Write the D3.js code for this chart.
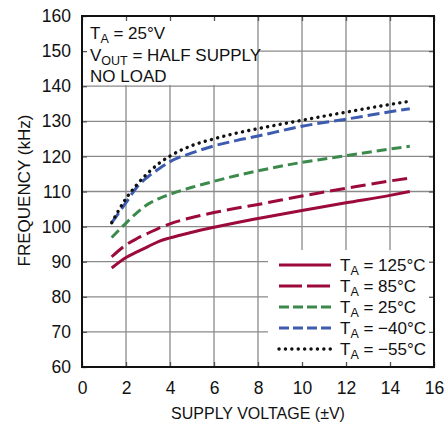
<!DOCTYPE html>
<html lang="en">
<head>
<meta charset="UTF-8">
<title>Frequency vs Supply Voltage</title>
<style>
    body { margin: 0; background: #fff; }
    svg text { font-family: "Liberation Sans Narrow", "Arial Narrow", "Liberation Sans", sans-serif; fill: #111; }
    .grid line { stroke: #8a8a8a; stroke-width: 1.3; }
</style>
</head>
<body>
<div id="chart"></div>
<script src="https://cdnjs.cloudflare.com/ajax/libs/d3/7.8.5/d3.min.js"></script>
<script>
    // supply voltage (±V) sample points, shared by every curve
    var volts = [1.35, 2, 2.5, 3, 3.5, 4, 5, 6, 7, 8, 10, 12, 14, 14.9];

    // frequency (kHz)
    var f125 = [88.2, 91.2, 92.8, 94.3, 95.8, 96.8, 98.4, 99.8, 101.1, 102.3, 104.6, 106.8, 108.9, 110];
    var f85 = [91.4, 94.8, 96.6, 98.1, 99.6, 100.8, 102.6, 104, 105.2, 106.3, 108.7, 110.9, 113, 113.8];
    var f25 = [96.9, 101, 104, 106.4, 108, 109.2, 111.2, 112.9, 114.5, 115.9, 118.3, 120.2, 122.1, 122.9];
    var fm40 = [101.1, 106.8, 111.3, 114.2, 116.5, 118.5, 121, 123, 124.5, 125.8, 128.6, 130.6, 132.7, 133.6];
    var fm55 = [101.1, 108, 112, 115.3, 118, 120.1, 123.1, 125, 126.6, 127.9, 130.3, 132.6, 134.8, 135.7];

    var tempLabels = ["125°C", "85°C", "25°C", "\u221240°C", "\u221255°C"];
    var xTicks = [0, 2, 4, 6, 8, 10, 12, 14, 16];
    var yTicks = [60, 70, 80, 90, 100, 110, 120, 130, 140, 150, 160];

    var series = [f125, f85, f25, fm40, fm55];
    var styles = [
        { color: "#9c0a3a", dash: null, legendDash: null },
        { color: "#9c0a3a", dash: "15 6", legendDash: "23 5" },
        { color: "#3b8a4b", dash: "10 5", legendDash: "10 4" },
        { color: "#3d5cb0", dash: "12 5", legendDash: "10 4" },
        { color: "#111", dash: "0.1 6.3", legendDash: "0.1 6.3", dot: true }
    ];

    var margin = { top: 16, right: 10, bottom: 58, left: 82 },
        width = 444 - margin.left - margin.right,
        height = 425 - margin.top - margin.bottom;

    var svg = d3.select("#chart").append("svg")
        .attr("width", 444)
        .attr("height", 425)
        .append("g")
        .attr("transform", "translate(" + margin.left + "," + margin.top + ")");

    var x = d3.scaleLinear().domain([0, 16]).range([0, width]);
    var y = d3.scaleLinear().domain([60, 160]).range([height, 0]);

    // grid
    svg.append("g").attr("class", "grid")
        .selectAll("line.v").data(xTicks.slice(1, -1)).enter().append("line")
        .attr("x1", d => x(d)).attr("x2", d => x(d))
        .attr("y1", 0).attr("y2", height);
    svg.append("g").attr("class", "grid")
        .selectAll("line.h").data(yTicks.slice(1, -1)).enter().append("line")
        .attr("x1", 0).attr("x2", width)
        .attr("y1", d => y(d)).attr("y2", d => y(d));

    // curves
    var line = d3.line()
        .curve(d3.curveMonotoneX)
        .x((d, i) => x(volts[i]))
        .y(d => y(d));

    series.forEach(function (s, i) {
        svg.append("path")
            .datum(s)
            .attr("fill", "none")
            .attr("stroke", styles[i].color)
            .attr("stroke-width", styles[i].dot ? 3.4 : 3)
            .attr("stroke-linecap", styles[i].dot ? "round" : "butt")
            .attr("stroke-dasharray", styles[i].dash)
            .attr("d", line);
    });

    // white boxes for notes and legend
    svg.append("rect").attr("x", 0).attr("y", 0)
        .attr("width", 175).attr("height", 69).attr("fill", "#fff");
    svg.append("rect").attr("x", 186).attr("y", 234)
        .attr("width", width - 186).attr("height", height - 234).attr("fill", "#fff");

    // axes with inward ticks
    var xAxisB = d3.axisBottom(x).tickValues(xTicks).tickSizeInner(-5).tickSizeOuter(0).tickPadding(15);
    var xAxisT = d3.axisTop(x).tickValues(xTicks).tickSizeInner(-5).tickSizeOuter(0).tickFormat("");
    var yAxisL = d3.axisLeft(y).tickValues(yTicks).tickSizeInner(-5).tickSizeOuter(0).tickPadding(11);
    var yAxisR = d3.axisRight(y).tickValues(yTicks).tickSizeInner(-5).tickSizeOuter(0).tickFormat("");

    [
        svg.append("g").attr("transform", "translate(0," + height + ")").call(xAxisB),
        svg.append("g").call(xAxisT),
        svg.append("g").call(yAxisL),
        svg.append("g").attr("transform", "translate(" + width + ",0)").call(yAxisR)
    ].forEach(function (g) {
        g.select(".domain").remove();
        g.selectAll(".tick line").attr("stroke", "#555").attr("stroke-width", 1.3);
        g.selectAll(".tick text").attr("font-size", 17.5).attr("fill", "#111")
            .style("font-family", "'Liberation Sans Narrow', 'Arial Narrow', sans-serif");
    });

    // frame
    svg.append("rect").attr("x", 0).attr("y", 0).attr("width", width).attr("height", height)
        .attr("fill", "none").attr("stroke", "#111").attr("stroke-width", 2);

    // axis titles
    svg.append("text")
        .attr("x", width / 2).attr("y", height + 52)
        .attr("text-anchor", "middle").attr("font-size", 16)
        .text("SUPPLY VOLTAGE (±V)");
    svg.append("text")
        .attr("transform", "translate(" + (-52) + "," + (height / 2 - 1) + ") rotate(-90)")
        .attr("text-anchor", "middle").attr("font-size", 17)
        .text("FREQUENCY (kHz)");

    // notes
    var notes = svg.append("g").attr("font-size", 17);
    var t1 = notes.append("text").attr("x", 8).attr("y", 23);
    t1.append("tspan").text("T");
    t1.append("tspan").attr("font-size", 12.5).attr("dy", 4).text("A");
    t1.append("tspan").attr("dy", -4).text(" = 25°V");
    var t2 = notes.append("text").attr("x", 8).attr("y", 45);
    t2.append("tspan").text("V");
    t2.append("tspan").attr("font-size", 12.5).attr("dy", 4).text("OUT");
    t2.append("tspan").attr("dy", -4).text(" = HALF SUPPLY");
    notes.append("text").attr("x", 8).attr("y", 66).text("NO LOAD");

    // legend
    var legend = svg.append("g").attr("transform", "translate(197,249)");
    tempLabels.forEach(function (lbl, i) {
        var row = legend.append("g").attr("transform", "translate(0," + (i * 21) + ")");
        row.append("line")
            .attr("x1", 0).attr("x2", 52).attr("y1", 0).attr("y2", 0)
            .attr("stroke", styles[i].color)
            .attr("stroke-width", styles[i].dot ? 3.4 : 3)
            .attr("stroke-linecap", styles[i].dot ? "round" : "butt")
            .attr("stroke-dasharray", styles[i].legendDash);
        var t = row.append("text").attr("x", 61).attr("y", 6).attr("font-size", 17);
        t.append("tspan").text("T");
        t.append("tspan").attr("font-size", 12.5).attr("dy", 4).text("A");
        t.append("tspan").attr("dy", -4).text(" = " + lbl);
    });
</script>
</body>
</html>
